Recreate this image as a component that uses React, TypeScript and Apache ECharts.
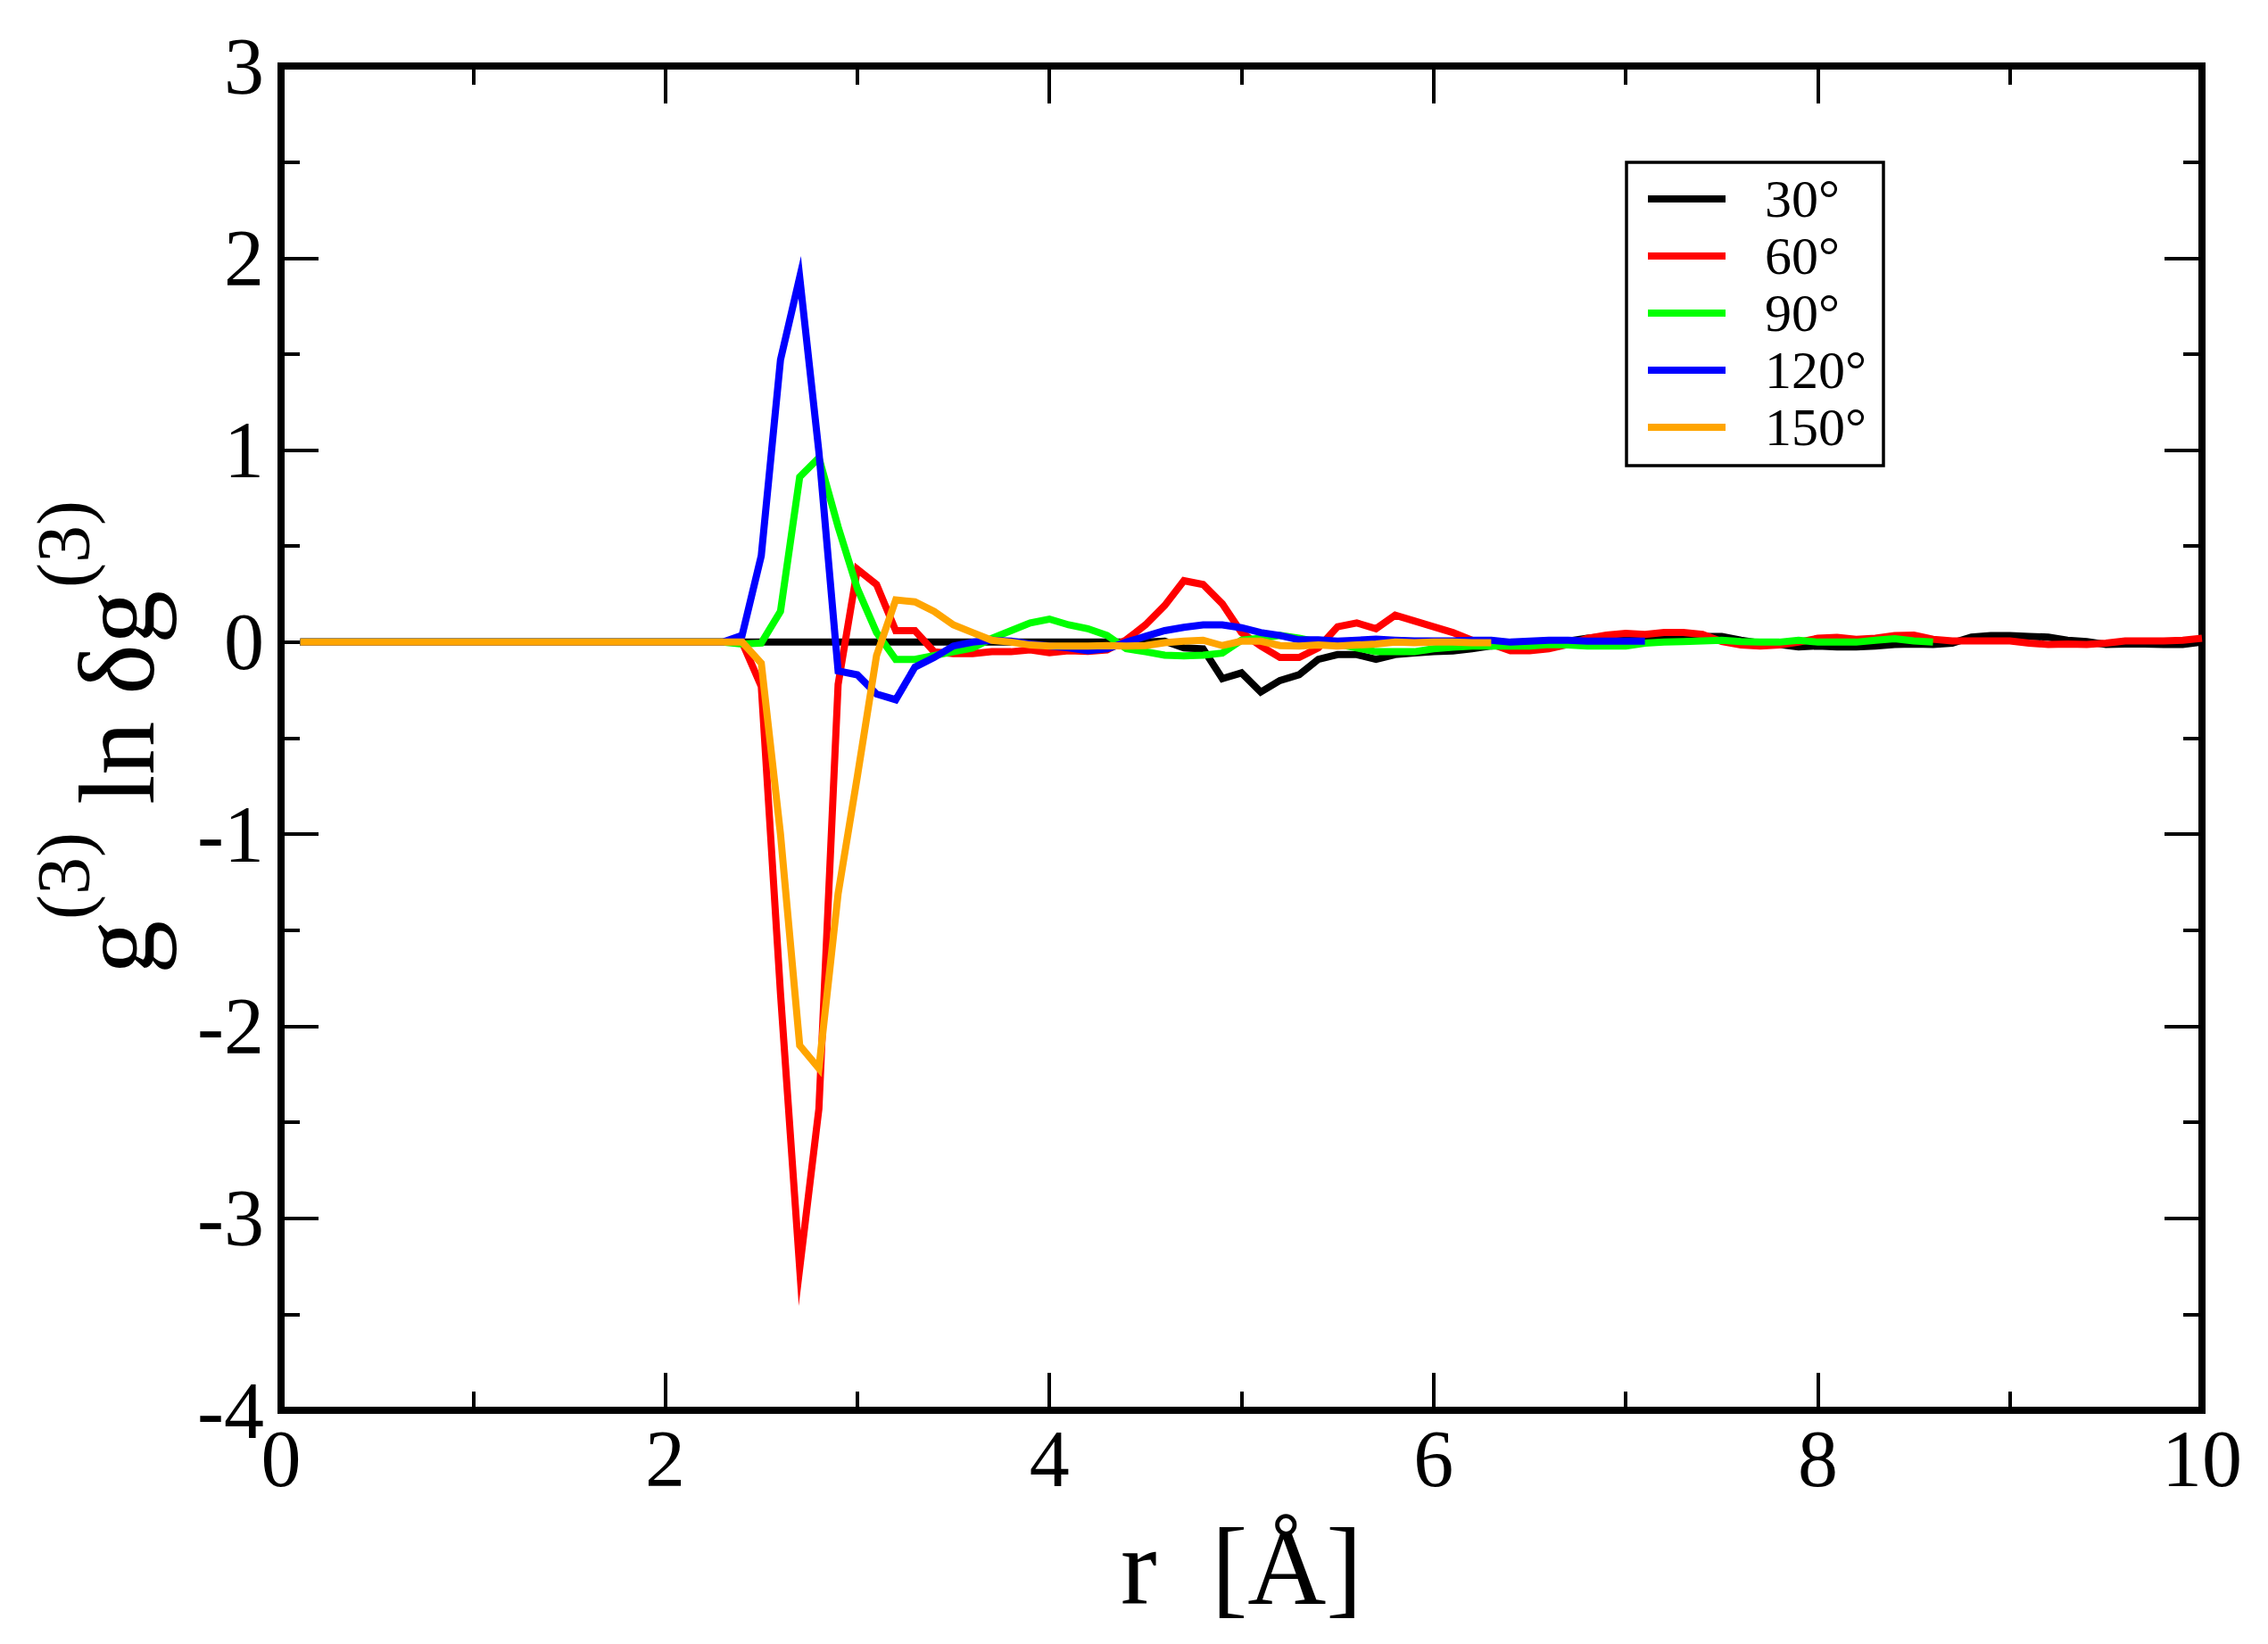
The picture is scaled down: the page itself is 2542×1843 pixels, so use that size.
import React, { useEffect, useRef } from "react";
import * as echarts from "echarts";

// r grid [Å]
const R = [
  0.1, 0.2, 0.3, 0.4, 0.5, 0.6, 0.7, 0.8, 0.9, 1.0,
  1.1, 1.2, 1.3, 1.4, 1.5, 1.6, 1.7, 1.8, 1.9, 2.0,
  2.1, 2.2, 2.3, 2.4, 2.5, 2.6, 2.7, 2.8, 2.9, 3.0,
  3.1, 3.2, 3.3, 3.4, 3.5, 3.6, 3.7, 3.8, 3.9, 4.0,
  4.1, 4.2, 4.3, 4.4, 4.5, 4.6, 4.7, 4.8, 4.9, 5.0,
  5.1, 5.2, 5.3, 5.4, 5.5, 5.6, 5.7, 5.8, 5.9, 6.0,
  6.1, 6.2, 6.3, 6.4, 6.5, 6.6, 6.7, 6.8, 6.9, 7.0,
  7.1, 7.2, 7.3, 7.4, 7.5, 7.6, 7.7, 7.8, 7.9, 8.0,
  8.1, 8.2, 8.3, 8.4, 8.5, 8.6, 8.7, 8.8, 8.9, 9.0,
  9.1, 9.2, 9.3, 9.4, 9.5, 9.6, 9.7, 9.8, 9.9, 10.0,
];

const SERIES_NAMES = ["30°", "60°", "90°", "120°", "150°"];
const SERIES_COLORS = ["#000000", "#ff0000", "#00ff00", "#0000ff", "#ffa500"];

// 30°
const V30 = [
  0, 0, 0, 0, 0, 0, 0, 0, 0, 0,
  0, 0, 0, 0, 0, 0, 0, 0, 0, 0,
  0, 0, 0, 0, 0, 0, 0, 0, 0, 0,
  0, 0, 0, 0, 0, 0, 0, 0, 0, 0,
  0, 0, 0,
  0, 0, 0.005, -0.03, -0.035, -0.19, -0.16, -0.26, -0.2, -0.17,
  -0.09, -0.065, -0.065, -0.09, -0.065, -0.057, -0.05, -0.046, -0.034, -0.02,
  -0.01, -0.01, -0.005, 0.005, 0.02, 0.03, 0.03, 0.02, 0.018, 0.026,
  0.03, 0.03, 0.01, -0.005, -0.012, -0.025, -0.02, -0.025, -0.025, -0.02,
  -0.012, -0.01, -0.012, -0.005, 0.026, 0.034, 0.034, 0.03, 0.026, 0.01,
  0.003, -0.012, -0.01, -0.01, -0.012, -0.012, 0,
];

// 60°
const V60 = [
  0, 0, 0, 0, 0, 0, 0, 0, 0, 0,
  0, 0, 0, 0, 0, 0, 0, 0, 0, 0,
  0, 0, 0, 0,
  -0.23, -1.83, -3.26, -2.43, -0.22, 0.38, 0.3, 0.06, 0.06, -0.05,
  -0.06, -0.06, -0.05, -0.05, -0.04, -0.055, -0.045, -0.048, -0.04, 0.012,
  0.09, 0.19, 0.32, 0.3, 0.2, 0.05, -0.02, -0.08, -0.08, -0.03,
  0.08, 0.1, 0.07, 0.14, 0.11, 0.08, 0.05, 0.01, -0.01, -0.045,
  -0.045, -0.035, -0.012, 0.02, 0.037, 0.046, 0.04, 0.05, 0.05, 0.04,
  0.003, -0.015, -0.02, -0.015, 0, 0.02, 0.025, 0.015, 0.02, 0.034,
  0.037, 0.015, 0.006, 0.006, 0.006, 0.006, -0.005, -0.012, -0.01, -0.012,
  -0.005, 0.006, 0.006, 0.006, 0.01, 0.02,
];

// 90°
const V90 = [
  0, 0, 0, 0, 0, 0, 0, 0, 0, 0,
  0, 0, 0, 0, 0, 0, 0, 0, 0, 0,
  0, 0, 0,
  -0.01, -0.005, 0.16, 0.86, 0.96, 0.6, 0.28, 0.05, -0.09, -0.09,
  -0.07, -0.05, -0.03, 0.02, 0.06, 0.1, 0.12, 0.09, 0.07, 0.035,
  -0.034, -0.05, -0.068, -0.072, -0.068, -0.057, 0.01, 0.02, 0.035, 0.02,
  0, -0.01, -0.03, -0.05, -0.05, -0.05, -0.034, -0.026, -0.02, -0.02,
  -0.02, -0.02, -0.012, -0.015, -0.02, -0.02, -0.02, -0.005, 0, 0.003,
  0.006, 0.01, 0.003, 0, 0, 0.01, 0, 0, 0, 0.01,
  0.018, 0.006, 0,
];

// 120°
const V120 = [
  0, 0, 0, 0, 0, 0, 0, 0, 0, 0,
  0, 0, 0, 0, 0, 0, 0, 0, 0, 0,
  0, 0, 0,
  0.035, 0.45, 1.47, 1.9, 0.99, -0.15, -0.17, -0.27, -0.3, -0.13,
  -0.08, -0.02, 0, 0.01, 0.005, -0.01, -0.02, -0.03, -0.045, -0.035,
  0, 0.03, 0.06, 0.077, 0.09, 0.09, 0.075, 0.05, 0.035, 0.012,
  0.012, 0.005, 0.01, 0.015, 0.01, 0.006, 0.006, 0.006, 0.01, 0.01,
  0, 0.005, 0.01, 0.01, 0.005, 0.005, 0.005, 0.005,
];

// 150°
const V150 = [
  0, 0, 0, 0, 0, 0, 0, 0, 0, 0,
  0, 0, 0, 0, 0, 0, 0, 0, 0, 0,
  0, 0, 0, 0,
  -0.11, -1.0, -2.1, -2.22, -1.31, -0.7, -0.07, 0.22, 0.21, 0.16,
  0.09, 0.05, 0.01, 0, -0.015, -0.02, -0.02, -0.02, -0.018, -0.02,
  -0.018, -0.003, 0.005, 0.01, -0.018, 0.005, 0.005, -0.018, -0.02, -0.015,
  -0.02, -0.015, -0.01, 0, -0.003, 0, 0, -0.003, -0.003,
];

const SERIES_VALUES = [V30, V60, V90, V120, V150];

const X_TITLE = "r  [Å]";
const SERIF = "'Liberation Serif', 'Times New Roman', Times, serif";

export default function App() {
  const ref = useRef<HTMLDivElement>(null);

  useEffect(() => {
    if (!ref.current) return;
    const chart = echarts.init(ref.current, null, { renderer: "svg" });

    const axisCommon = {
      type: "value" as const,
      splitLine: { show: false },
      axisLine: { show: true, onZero: false, lineStyle: { color: "#000", width: 8 } },
      axisTick: { show: true, inside: true, length: 42, lineStyle: { color: "#000", width: 4 } },
      minorTick: { show: true, splitNumber: 2, length: 21, lineStyle: { color: "#000", width: 4 } },
      minorSplitLine: { show: false },
    };

    const series = SERIES_VALUES.map((vals, i) => ({
      name: SERIES_NAMES[i],
      type: "line",
      data: vals.map((v, k) => [R[k], v]),
      showSymbol: false,
      symbol: "none",
      color: SERIES_COLORS[i],
      lineStyle: { color: SERIES_COLORS[i], width: 8, join: "miter", miterLimit: 20 },
      emphasis: { disabled: true },
      z: 2 + i,
    }));

    const txt = (text: string, x: number, y: number, size: number) => ({
      type: "text",
      x,
      y,
      style: {
        text,
        fontSize: size,
        fontFamily: SERIF,
        fill: "#000",
        align: "left",
        verticalAlign: "middle",
        textAlign: "left",
        textVerticalAlign: "middle",
      },
    });

    const option = {
      animation: false,
      backgroundColor: "#ffffff",
      grid: {
        left: 315,
        top: 74,
        width: 2153,
        height: 1507,
        show: true,
        borderColor: "#000",
        borderWidth: 8,
        backgroundColor: "transparent",
      },
      xAxis: [
        {
          ...axisCommon,
          position: "bottom",
          min: 0,
          max: 10,
          interval: 2,
          axisLabel: {
            show: true,
            margin: 9,
            fontSize: 90,
            fontFamily: SERIF,
            color: "#000",
          },
          name: X_TITLE,
          nameLocation: "middle",
          nameGap: 114,
          nameTextStyle: { fontSize: 122, fontFamily: SERIF, color: "#000" },
        },
        {
          ...axisCommon,
          position: "top",
          min: 0,
          max: 10,
          interval: 2,
          axisLabel: { show: false },
        },
      ],
      yAxis: [
        {
          ...axisCommon,
          position: "left",
          min: -4,
          max: 3,
          interval: 1,
          axisLabel: {
            show: true,
            margin: 19,
            fontSize: 90,
            fontFamily: SERIF,
            color: "#000",
          },
        },
        {
          ...axisCommon,
          position: "right",
          min: -4,
          max: 3,
          interval: 1,
          axisLabel: { show: false },
        },
      ],
      legend: {
        show: true,
        orient: "vertical",
        left: 1823,
        top: 182,
        data: SERIES_NAMES,
        icon: "rect",
        itemWidth: 87,
        itemHeight: 8,
        itemGap: 0,
        selectedMode: false,
        backgroundColor: "#ffffff",
        borderColor: "#000",
        borderWidth: 3.5,
        borderRadius: 0,
        padding: [9, 19, 11, 24],
        formatter: "{g|}{t|{name}}",
        textStyle: {
          fontSize: 60,
          fontFamily: SERIF,
          color: "#000",
          lineHeight: 64,
          rich: {
            g: { width: 39, height: 64 },
            t: { fontSize: 60, fontFamily: SERIF, color: "#000", lineHeight: 64 },
          },
        },
      },
      graphic: [
        {
          type: "group",
          x: 172,
          y: 1088,
          rotation: Math.PI / 2,
          children: [
            txt("g", -4, -40.5, 120),
            txt("(3)", 57, -100.4, 84),
            txt(" ln δg", 156, -40.5, 120),
            txt("(3)", 429, -100.4, 84),
          ],
        },
      ],
      series,
    };

    chart.setOption(option as any);
    return () => {
      chart.dispose();
    };
  }, []);

  return (
    <div
      ref={ref}
      style={{
        position: "fixed",
        left: 0,
        top: 0,
        width: 2542,
        height: 1843,
        background: "#ffffff",
      }}
    />
  );
}
